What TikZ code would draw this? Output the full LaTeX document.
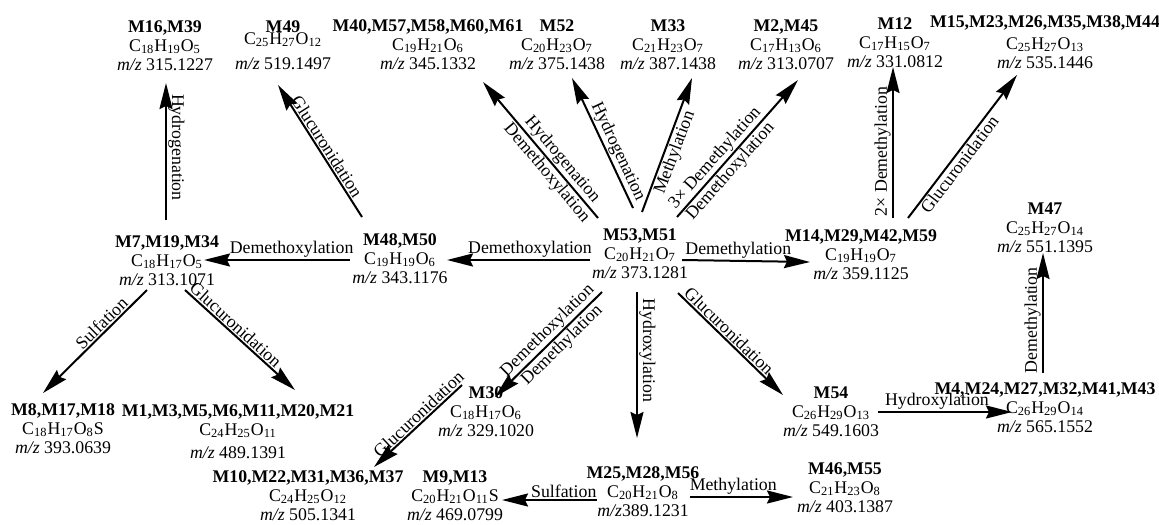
\documentclass[tikz,border=0pt]{standalone}
\usepackage{fontspec}
\setmainfont{Liberation Serif}
\usetikzlibrary{arrows.meta,calc}
\newcommand\ssb[1]{\textsubscript{#1}}
\newcommand\fsz{\fontsize{8.9pt}{9.5pt}\selectfont}
\newcommand\mzz{\textit{m/z}}
\tikzset{
  met/.style={align=center, inner sep=0pt, font=\fsz},
  arr/.style={line width=1pt, -{Stealth[length=13pt,width=6.5pt,inset=1.5pt]}},
  lab/.style={font=\fsz, inner sep=0.6pt},
}
\begin{document}
\begin{tikzpicture}[x=0.5pt,y=-0.5pt]
\useasboundingbox (0,0) rectangle (1159,524);
% top row
\node[met] (m16) at (165,46) {\textbf{M16,M39}\\C\ssb{18}H\ssb{19}O\ssb{5}\\\mzz{} 315.1227};
\node[met] (m49) at (283,45) {\textbf{M49}\\[-3.5pt]C\ssb{25}H\ssb{27}O\ssb{12}\\[3pt]\mzz{} 519.1497};
\node[met] (m40) at (428,45) {\textbf{M40,M57,M58,M60,M61}\\C\ssb{19}H\ssb{21}O\ssb{6}\\\mzz{} 345.1332};
\node[met] (m52) at (557,45) {\textbf{M52}\\C\ssb{20}H\ssb{23}O\ssb{7}\\\mzz{} 375.1438};
\node[met] (m33) at (668,45) {\textbf{M33}\\C\ssb{21}H\ssb{23}O\ssb{7}\\\mzz{} 387.1438};
\node[met] (m2) at (786,45) {\textbf{M2,M45}\\C\ssb{17}H\ssb{13}O\ssb{6}\\\mzz{} 313.0707};
\node[met] (m12) at (895,43) {\textbf{M12}\\C\ssb{17}H\ssb{15}O\ssb{7}\\\mzz{} 331.0812};
\node[met] (m15) at (1045,42) {\textbf{M15,M23,M26,M35,M38,M44}\\[1.5pt]C\ssb{25}H\ssb{27}O\ssb{13}\\\mzz{} 535.1446};
% middle row
\node[met] (m7) at (167,261) {\textbf{M7,M19,M34}\\C\ssb{18}H\ssb{17}O\ssb{5}\\\mzz{} 313.1071};
\node[met] (m48) at (400,259) {\textbf{M48,M50}\\C\ssb{19}H\ssb{19}O\ssb{6}\\\mzz{} 343.1176};
\node[met] (m53) at (640,254) {\textbf{M53,M51}\\C\ssb{20}H\ssb{21}O\ssb{7}\\\mzz{} 373.1281};
\node[met] (m14) at (861,255) {\textbf{M14,M29,M42,M59}\\C\ssb{19}H\ssb{19}O\ssb{7}\\\mzz{} 359.1125};
\node[met] (m47) at (1045,228) {\textbf{M47}\\C\ssb{25}H\ssb{27}O\ssb{14}\\\mzz{} 551.1395};
% lower rows
\node[met] (m8) at (63,429) {\textbf{M8,M17,M18}\\C\ssb{18}H\ssb{17}O\ssb{8}S\\\mzz{} 393.0639};
\node[met] (m1) at (238,432) {\textbf{M1,M3,M5,M6,M11,M20,M21}\\C\ssb{24}H\ssb{25}O\ssb{11}\\[2pt]\mzz{} 489.1391};
\node[met] (m30) at (486,412) {\textbf{M30}\\C\ssb{18}H\ssb{17}O\ssb{6}\\\mzz{} 329.1020};
\node[met] (m54) at (831,412) {\textbf{M54}\\C\ssb{26}H\ssb{29}O\ssb{13}\\\mzz{} 549.1603};
\node[met] (m4) at (1045,408) {\textbf{M4,M24,M27,M32,M41,M43}\\C\ssb{26}H\ssb{29}O\ssb{14}\\\mzz{} 565.1552};
\node[met] (m10) at (308,496) {\textbf{M10,M22,M31,M36,M37}\\C\ssb{24}H\ssb{25}O\ssb{12}\\\mzz{} 505.1341};
\node[met] (m9) at (455,496) {\textbf{M9,M13}\\C\ssb{20}H\ssb{21}O\ssb{11}S\\\mzz{} 469.0799};
\node[met] (m25) at (643,492) {\textbf{M25,M28,M56}\\C\ssb{20}H\ssb{21}O\ssb{8}\\\mzz{}389.1231};
\node[met] (m46) at (845,488) {\textbf{M46,M55}\\C\ssb{21}H\ssb{23}O\ssb{8}\\\mzz{} 403.1387};
% arrows
\draw[arr] ($(m7)+(-1,-41)$) -- node[lab,pos=.53,rotate=-90,anchor=south]{Hydrogenation} ($(m16)+(1,37)$);
\draw[arr] ($(m48)+(-38,-42)$) -- node[lab,pos=.5,rotate=-57.5,anchor=south]{Glucuronidation} ($(m49)+(-5,40)$);
\draw[arr] ($(m53)+(-50,6)$) -- node[lab,pos=.42,anchor=south]{Demethoxylation} ($(m48)+(47,1)$);
\draw[arr] ($(m48)+(-50,1)$) -- node[lab,pos=.40,anchor=south]{Demethoxylation} ($(m7)+(37,-1)$);
\draw[arr] ($(m53)+(-42,-36)$) -- node[lab,pos=.38,rotate=-49.8,anchor=south]{Hydrogenation}
  node[lab,pos=.38,rotate=-49.8,anchor=north]{Demethoxylation} ($(m40)+(55,37)$);
\draw[arr] ($(m53)+(-7,-46)$) -- node[lab,pos=.40,rotate=-64.9,anchor=south]{Hydrogenation} ($(m52)+(15,33)$);
\draw[arr] ($(m53)+(2,-42)$) -- node[lab,pos=.47,rotate=69.5,anchor=north]{Methylation} ($(m33)+(24,33)$);
\draw[arr] ($(m53)+(37,-37)$) -- node[lab,pos=.38,rotate=48.5,anchor=south]{3× Demethylation}
  node[lab,pos=.38,rotate=48.5,anchor=north]{Demethoxylation} ($(m2)+(12,35)$);
\draw[arr] ($(m53)+(42,6)$) -- node[lab,pos=.44,anchor=south]{Demethylation} ($(m14)+(-51,7)$);
\draw[arr] ($(m14)+(32,-37)$) -- node[lab,pos=.44,rotate=90,anchor=south]{2× Demethylation} ($(m12)+(-2,24)$);
\draw[arr] ($(m14)+(47,-37)$) -- node[lab,pos=.41,rotate=52.7,anchor=north]{Glucuronidation} ($(m15)+(-28,33)$);
\draw[arr] ($(m53)+(-38,38)$) -- node[lab,pos=.44,rotate=44.5,anchor=south]{Demethoxylation}
  node[lab,pos=.44,rotate=44.5,anchor=north]{Demethylation} ($(m30)+(9,-15)$);
\draw[arr] ($(m53)+(-3,38)$) -- node[lab,pos=.40,rotate=-90,anchor=south]{Hydroxylation} ($(m25)+(-6,-54)$);
\draw[arr] ($(m53)+(38,39)$) -- node[lab,pos=.43,rotate=-44.2,anchor=south]{Glucuronidation} ($(m54)+(-48,-17)$);
\draw[arr] ($(m54)+(47,0)$) -- node[lab,pos=.44,anchor=south]{Hydroxylation} ($(m4)+(-33,4)$);
\draw[arr] ($(m4)+(-2,-35)$) -- node[lab,pos=.44,rotate=90,anchor=south]{Demethylation} ($(m47)+(-2,25)$);
\draw[arr] ($(m30)+(-24,-27)$) -- node[lab,pos=.43,rotate=43.3,anchor=south]{Glucuronidation} ($(m10)+(66,-29)$);
\draw[arr] ($(m7)+(-20,29)$) -- node[lab,pos=.38,rotate=44.7,anchor=south]{Sulfation} ($(m8)+(-20,-36)$);
\draw[arr] ($(m7)+(18,29)$) -- node[lab,pos=.41,rotate=-42.3,anchor=south]{Glucuronidation} ($(m1)+(57,-42)$);
\draw[arr] ($(m25)+(-46,8)$) -- node[lab,pos=.35,anchor=south]{Sulfation} ($(m9)+(47,4)$);
\draw[arr] ($(m25)+(47,5)$) -- node[lab,pos=.42,anchor=south]{Methylation} ($(m46)+(-52,9)$);
\end{tikzpicture}
\end{document}
